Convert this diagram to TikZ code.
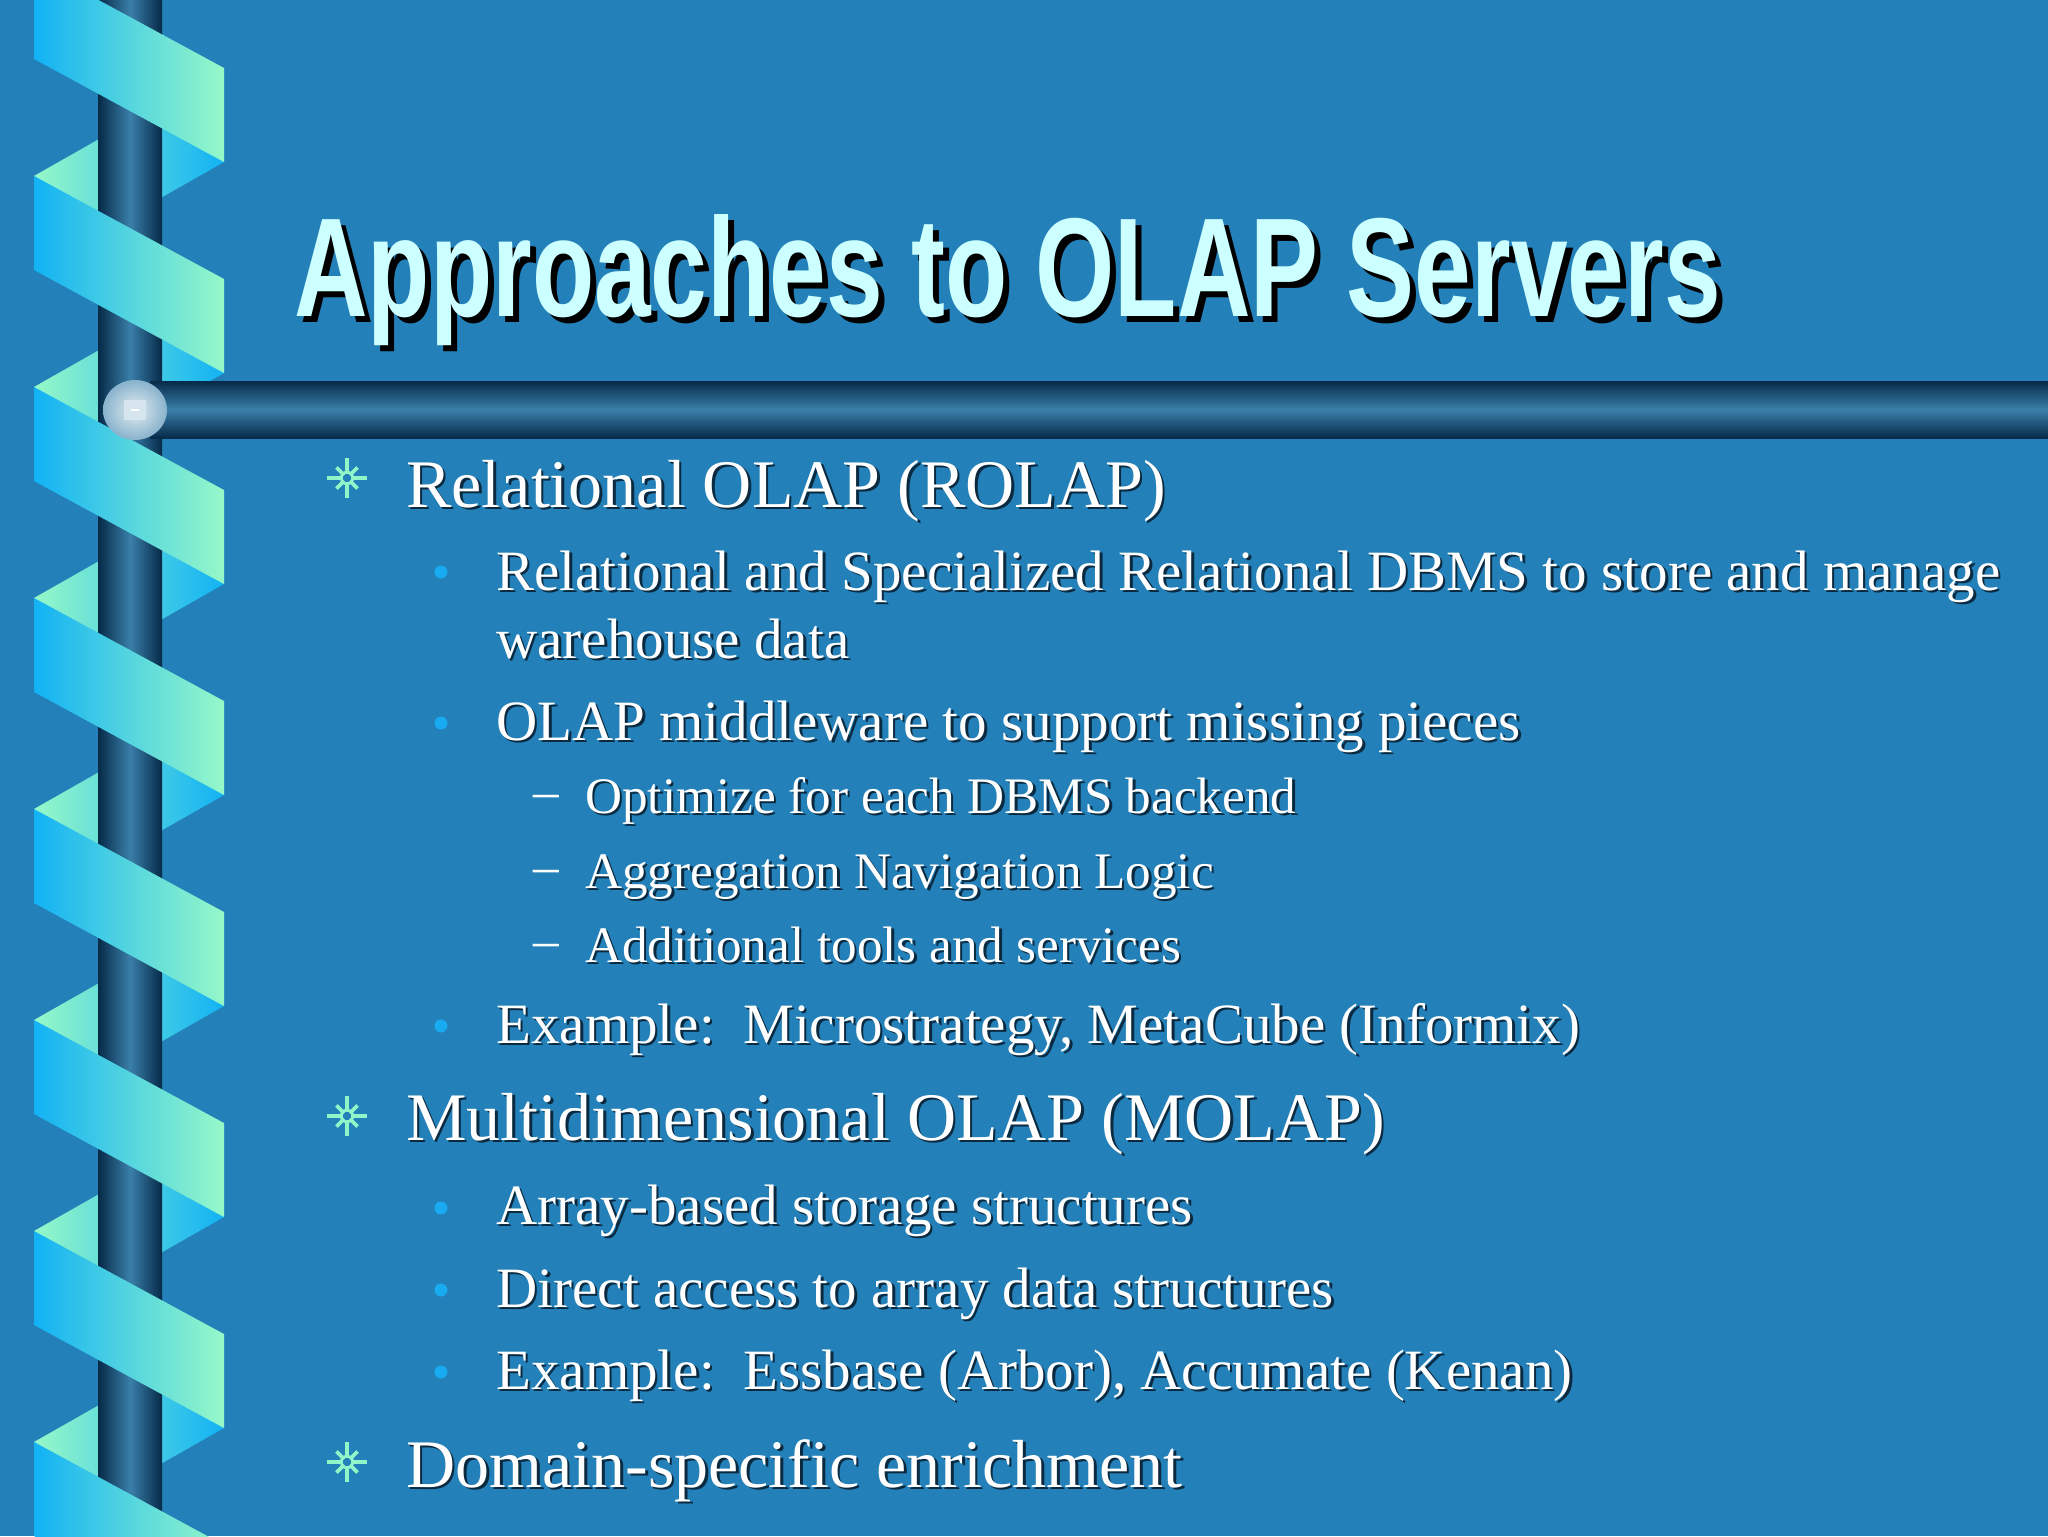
\documentclass[tikz,border=0pt]{standalone}
\usepackage{fontspec}
\setmainfont{Liberation Serif}
\newfontfamily\titlefont{Liberation Sans}
\definecolor{bg}{HTML}{2380B8}
\definecolor{rbA}{HTML}{12B2F5}
\definecolor{rbB}{HTML}{96F8C8}
\definecolor{poleD}{HTML}{062A48}
\definecolor{poleL}{HTML}{3A7FAA}
\definecolor{ttl}{HTML}{CCFFFF}
\definecolor{star}{HTML}{90F5C8}
\definecolor{dotc}{HTML}{18ABF2}
\definecolor{shd}{HTML}{0B2A40}
\tikzset{
  lone/.style={anchor=base west,inner sep=0pt,font=\fontsize{34}{40}\selectfont},
  ltwo/.style={anchor=base west,inner sep=0pt,font=\fontsize{28.5}{34}\selectfont},
  lthree/.style={anchor=base west,inner sep=0pt,font=\fontsize{25.6}{30}\selectfont},
}
\newcommand\sline[5]{%
  \node[#4,text=shd] (#1s) at (#2+2.5,#3+2.5) {#5};
  \node[#4,text=white] (#1) at (#2,#3) {#5};}
\newcommand\starb[3]{%
  \node[circle,draw=star,line width=1.2pt,inner sep=0pt,minimum size=6pt] (#1) at (#2,#3) {};
  \foreach \a/\r in {0/16,45/11,90/16,135/11,180/16,225/11,270/16,315/11}
    \draw[star,line width=1.8pt] (#1) ++(\a:4) -- ++(\a:\r);}
\newcommand\dotb[3]{\node[circle,fill=dotc,inner sep=0pt,minimum size=6.5pt] (#1) at (#2,#3) {};}
\newcommand\dashb[3]{\node[anchor=base,inner sep=0pt,text=white,font=\fontsize{25.6}{30}\selectfont] (#1) at (#2,#3) {–};}
\begin{document}
\begin{tikzpicture}[x=0.5pt,y=-0.5pt]
\fill[bg] (0,0) rectangle (2048,1536);
\useasboundingbox (0,0) rectangle (2048,1536);
% back bands
\foreach \k in {-1,0,...,7}{
  \pgfmathsetmacro\yo{-35+211*\k}
  \shade[left color=rbB,right color=rbA,shading angle=90] (224,\yo+103) -- (224,\yo+197) -- (34,\yo+305) -- (34,\yo+211) -- cycle;
}
% pole
\shade[left color=poleD,right color=poleD,middle color=poleL] (98,0) rectangle (162,1536);
% front bands
\foreach \k in {0,...,7}{
  \pgfmathsetmacro\yo{-35+211*\k}
  \shade[left color=rbA,right color=rbB] (34,\yo) -- (224,\yo+103) -- (224,\yo+197) -- (34,\yo+94) -- cycle;
}
% horizontal bar
\shade[top color=poleD,bottom color=poleD,middle color=poleL] (150,381) rectangle (2048,438);
\shade[inner color=white!85!poleL,outer color=poleL!60!white] (135,410) ellipse [x radius=32,y radius=30];
\fill[white!80!poleL] (124,400) rectangle (146,420);
\fill[white] (131,409) rectangle (139,411);
% title
\node[anchor=base west,inner sep=0pt,text=black] (ts) at (300,322) {\resizebox{713pt}{51pt}{\titlefont\bfseries Approaches to OLAP Servers}};
\node[anchor=base west,inner sep=0pt,text=ttl] (title) at (294,316) {\resizebox{713pt}{51pt}{\titlefont\bfseries Approaches to OLAP Servers}};
% bullets
\starb{s1}{347}{478}
\starb{s2}{347}{1116}
\starb{s3}{347}{1462}
\dotb{d1}{441}{572}
\dotb{d2}{441}{723}
\dotb{d3}{441}{1026}
\dotb{d4}{441}{1208}
\dotb{d5}{441}{1290}
\dotb{d6}{441}{1372}
\dashb{m1}{546}{808}
\dashb{m2}{546}{883}
\dashb{m3}{546}{957}
% texts
\sline{t1}{406}{507}{lone}{Relational OLAP (ROLAP)}
\sline{t2}{496}{590}{ltwo}{Relational and Specialized Relational DBMS to store and manage}
\sline{t3}{496}{658}{ltwo}{warehouse data}
\sline{t4}{496}{740}{ltwo}{OLAP middleware to support missing pieces}
\sline{t5}{585}{813}{lthree}{Optimize for each DBMS backend}
\sline{t6}{585}{888}{lthree}{Aggregation Navigation Logic}
\sline{t7}{585}{962}{lthree}{Additional tools and services}
\sline{t8}{496}{1043}{ltwo}{Example:\ \ Microstrategy, MetaCube (Informix)}
\sline{t9}{406}{1140}{lone}{Multidimensional OLAP (MOLAP)}
\sline{t10}{496}{1224}{ltwo}{Array-based storage structures}
\sline{t11}{496}{1307}{ltwo}{Direct access to array data structures}
\sline{t12}{496}{1389}{ltwo}{Example:\ \ Essbase (Arbor), Accumate (Kenan)}
\sline{t13}{406}{1487}{lone}{Domain-specific enrichment}
\end{tikzpicture}
\end{document}
